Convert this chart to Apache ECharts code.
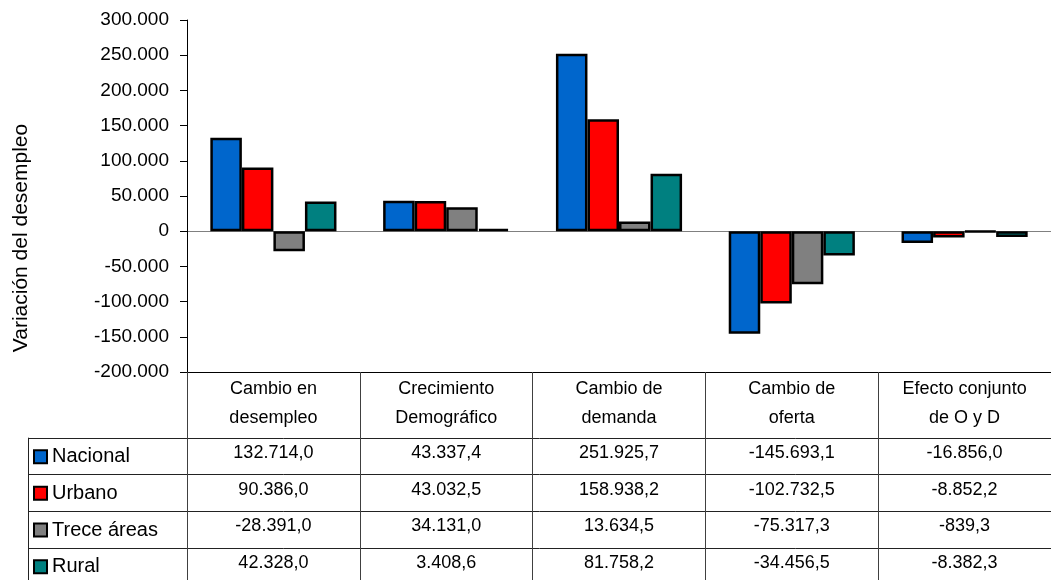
<!DOCTYPE html>
<html>
<head>
<meta charset="utf-8">
<script src="https://cdn.jsdelivr.net/npm/echarts@6/dist/echarts.min.js"></script>
<style>
html,body{margin:0;padding:0;background:#fff;}
#chart{width:1051px;height:580px;}
</style>
</head>
<body>
<div id="chart"></div>
<script>
// ---- data ----
var categories = ['Cambio en\ndesempleo', 'Crecimiento\nDemográfico', 'Cambio de\ndemanda', 'Cambio de\noferta', 'Efecto conjunto\nde O y D'];
var seriesNames = ['Nacional', 'Urbano', 'Trece áreas', 'Rural'];
var nacional = [132714.0, 43337.4, 251925.7, -145693.1, -16856.0];
var urbano = [90386.0, 43032.5, 158938.2, -102732.5, -8852.2];
var treceAreas = [-28391.0, 34131.0, 13634.5, -75317.3, -839.3];
var rural = [42328.0, 3408.6, 81758.2, -34456.5, -8382.3];
var yTicks = [-200000, -150000, -100000, -50000, 0, 50000, 100000, 150000, 200000, 250000, 300000];
var axisTitle = 'Variación del desempleo';

// ---- style / layout ----
var colors = ['#0066CC', '#FF0000', '#808080', '#008080'];
var FONT = '"Liberation Sans", Arial, sans-serif';
var W = 1051, H = 580;
var gridLeft = 187, gridTop = 20, gridRightEdge = 1058, gridBottomY = 372;
var headerH = 65.7, rowH = 36.65, tableLeft = 28;

function groupInt(s) {
  return s.replace(/\B(?=(\d{3})+(?!\d))/g, '.');
}
function fmtAxis(v) {
  var neg = v < 0;
  return (neg ? '-' : '') + groupInt(String(Math.abs(Math.round(v))));
}
function fmtTable(v) {
  var neg = v < 0;
  var p = Math.abs(v).toFixed(1).split('.');
  return (neg ? '-' : '') + groupInt(p[0]) + ',' + p[1];
}

var allData = [nacional, urbano, treceAreas, rural];

var chart = echarts.init(document.getElementById('chart'), null, {renderer: 'canvas', width: W, height: H});

var splitColors = yTicks.map(function (t) { return t === 0 ? '#808080' : 'rgba(0,0,0,0)'; });

var xAxes = [{
  type: 'category',
  data: categories,
  gridIndex: 0,
  position: 'bottom',
  axisLine: {show: true, onZero: false, lineStyle: {color: '#000', width: 1}},
  axisTick: {show: true, length: H - gridBottomY, lineStyle: {color: '#404040', width: 1}},
  axisLabel: {
    interval: 0, margin: 3, color: '#000', fontFamily: FONT, fontSize: 18, lineHeight: 29,
    align: 'center'
  },
  splitLine: {show: false}
}];

allData.forEach(function (arr, i) {
  xAxes.push({
    type: 'category',
    data: categories,
    gridIndex: 0,
    position: 'bottom',
    offset: headerH + rowH * i + rowH / 2 - 3,
    axisLine: {show: false, onZero: false},
    axisTick: {show: false},
    splitLine: {show: false},
    axisLabel: {
      interval: 0, margin: 0, color: '#000', fontFamily: FONT, fontSize: 18,
      verticalAlign: 'middle',
      formatter: (function (a) { return function (val, idx) { return fmtTable(a[idx]); }; })(arr)
    }
  });
});

var graphics = [];
for (var r = 0; r < 4; r++) {
  var y = Math.round(gridBottomY + headerH + rowH * r) + 0.5;
  graphics.push({type: 'line', silent: true, shape: {x1: tableLeft, y1: y, x2: W, y2: y}, style: {stroke: '#222', lineWidth: 1}});
}
graphics.push({type: 'line', silent: true, shape: {x1: tableLeft + 0.5, y1: gridBottomY + headerH, x2: tableLeft + 0.5, y2: H}, style: {stroke: '#222', lineWidth: 1}});
graphics.push({
  type: 'text', silent: true, x: 21, y: 238, rotation: Math.PI / 2,
  style: {text: axisTitle, fill: '#000', font: '21px ' + FONT, align: 'center', verticalAlign: 'middle'}
});

var option = {
  animation: false,
  backgroundColor: '#fff',
  color: colors,
  textStyle: {fontFamily: FONT},
  grid: {left: gridLeft, top: gridTop, right: W - gridRightEdge, bottom: H - gridBottomY, containLabel: false},
  legend: {
    orient: 'vertical',
    left: 33,
    top: gridBottomY + headerH + 9,
    height: 4 * rowH + 10,
    padding: 0,
    itemWidth: 13,
    itemHeight: 13,
    itemGap: rowH - 20,
    selectedMode: false,
    icon: 'rect',
    textStyle: {fontFamily: FONT, fontSize: 20, lineHeight: 20, color: '#000'},
    data: seriesNames
  },
  xAxis: xAxes,
  yAxis: {
    type: 'value',
    min: -200000,
    max: 300000,
    interval: 50000,
    axisLine: {show: true, lineStyle: {color: '#000', width: 1}},
    axisTick: {show: true, inside: false, length: 7, lineStyle: {color: '#000'}},
    axisLabel: {margin: 18, color: '#000', fontFamily: FONT, fontSize: 19, formatter: fmtAxis},
    splitLine: {show: true, lineStyle: {color: splitColors, width: 1}}
  },
  graphic: graphics,
  series: allData.map(function (arr, i) {
    return {
      name: seriesNames[i],
      type: 'bar',
      xAxisIndex: 0,
      data: arr,
      barGap: '0%',
      barCategoryGap: '27%',
      itemStyle: {color: colors[i], borderColor: '#000', borderWidth: 2.5},
      emphasis: {disabled: true}
    };
  })
};
chart.setOption(option);
</script>
</body>
</html>
